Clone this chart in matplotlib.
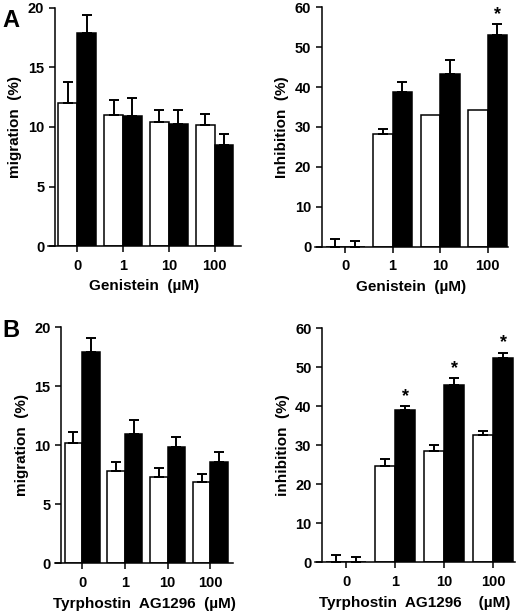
import matplotlib
matplotlib.use('Agg')
import matplotlib.pyplot as plt
import numpy as np

plt.rcParams['font.family'] = ['Liberation Sans', 'DejaVu Sans']
plt.rcParams['font.weight'] = 'bold'

doses = ['0', '1', '10', '100']

# panel A, migration (%)
a_mig_white = [12.0, 11.0, 10.4, 10.2]
a_mig_white_err = [1.8, 1.3, 1.0, 0.9]
a_mig_black = [17.9, 10.9, 10.25, 8.5]
a_mig_black_err = [1.5, 1.5, 1.15, 0.9]

# panel A, inhibition (%)
a_inh_white = [0, 28.2, 33.0, 34.2]
a_inh_white_err = [1.8, 1.2, 0, 0]
a_inh_black = [0, 38.8, 43.3, 53.0]
a_inh_black_err = [1.5, 2.5, 3.5, 2.7]
a_inh_star = [False, False, False, True]

# panel B, migration (%)
b_mig_white = [10.15, 7.8, 7.3, 6.9]
b_mig_white_err = [1.0, 0.8, 0.8, 0.7]
b_mig_black = [17.85, 10.95, 9.85, 8.55]
b_mig_black_err = [1.2, 1.2, 0.8, 0.85]

# panel B, inhibition (%)
b_inh_white = [0, 24.8, 28.5, 32.6]
b_inh_white_err = [1.9, 1.6, 1.5, 1.1]
b_inh_black = [0, 39.0, 45.5, 52.3]
b_inh_black_err = [1.45, 1.1, 1.6, 1.4]
b_inh_star = [False, True, True, True]


def panel(ax, white, werr, black, berr, ymax, ystep, ylabel, xlabel, stars=None, xmax=3.5):
    x = np.arange(len(doses))
    w = 0.41
    ax.bar(x, white, width=-w, align='edge', color='white', edgecolor='black', linewidth=1.1, zorder=2)
    ax.bar(x, black, width=w, align='edge', color='black', edgecolor='black', linewidth=1.1, zorder=2)
    for i in range(len(doses)):
        if werr[i] > 0:
            ax.errorbar(x[i] - w / 2, white[i], yerr=[[0], [werr[i]]], fmt='none',
                        ecolor='black', elinewidth=1.4, capsize=3.5, capthick=1.4, zorder=3)
        if berr[i] > 0:
            ax.errorbar(x[i] + w / 2, black[i], yerr=[[0], [berr[i]]], fmt='none',
                        ecolor='black', elinewidth=1.4, capsize=3.5, capthick=1.4, zorder=3)
        if stars is not None and stars[i]:
            ax.text(x[i] + w / 2, black[i] + berr[i] + 0.3, '*', ha='center', va='bottom',
                    fontsize=13, fontweight='bold')
    ax.set_xlim(-0.63, xmax)
    ax.set_ylim(0, ymax)
    ax.set_yticks(np.arange(0, ymax + 1, ystep))
    ax.set_xticks(x)
    ax.set_xticklabels(doses)
    ax.spines['top'].set_visible(False)
    ax.spines['right'].set_visible(False)
    ax.spines['left'].set_position(('data', -0.49))
    for s in ('left', 'bottom'):
        ax.spines[s].set_linewidth(1.1)
    ax.tick_params(axis='both', direction='out', length=4, width=1.1, labelsize=10.5)
    ax.tick_params(axis='x', pad=5)
    ax.set_ylabel(ylabel, fontsize=11, fontweight='bold', labelpad=4)
    ax.set_xlabel(xlabel, fontsize=11, fontweight='bold', labelpad=5)


fig = plt.figure(figsize=(5.2, 6.12), dpi=100)

ax1 = fig.add_axes([0.093, 0.598, 0.37, 0.389])
panel(ax1, a_mig_white, a_mig_white_err, a_mig_black, a_mig_black_err,
      20, 5, 'migration  (%)', 'Genistein  (\u00b5M)', xmax=3.57)

ax2 = fig.add_axes([0.606, 0.597, 0.37, 0.391])
panel(ax2, a_inh_white, a_inh_white_err, a_inh_black, a_inh_black_err,
      60, 10, 'Inhibition  (%)', 'Genistein  (\u00b5M)', stars=a_inh_star, xmax=3.42)

ax3 = fig.add_axes([0.106, 0.0796, 0.342, 0.386])
panel(ax3, b_mig_white, b_mig_white_err, b_mig_black, b_mig_black_err,
      20, 5, 'migration  (%)', 'Tyrphostin  AG1296  (\u00b5M)', xmax=3.53)

ax4 = fig.add_axes([0.606, 0.081, 0.384, 0.383])
panel(ax4, b_inh_white, b_inh_white_err, b_inh_black, b_inh_black_err,
      60, 10, 'inhibition  (%)', 'Tyrphostin  AG1296    (\u00b5M)', stars=b_inh_star, xmax=3.44)

fig.text(0.005, 0.985, 'A', fontsize=17, fontweight='bold', va='top', ha='left')
fig.text(0.005, 0.478, 'B', fontsize=17, fontweight='bold', va='top', ha='left')

fig.savefig('out.png', dpi=100)
